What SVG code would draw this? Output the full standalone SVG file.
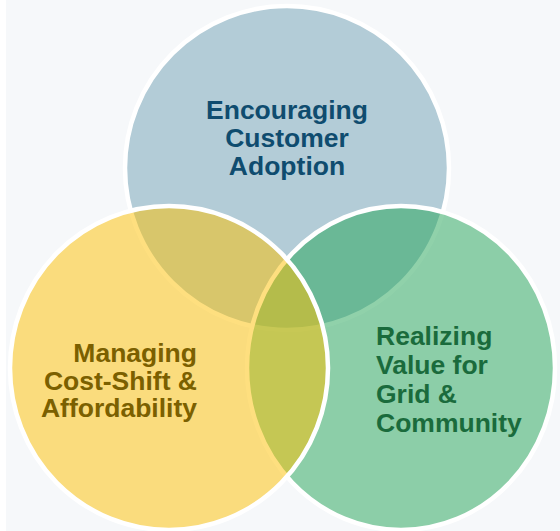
<svg xmlns="http://www.w3.org/2000/svg" width="560" height="531" viewBox="0 0 560 531">
  <style>
    .c { stroke: #FFFFFF; stroke-width: 4.5; }
    .t { font-family: "Liberation Sans", Arial, sans-serif; font-weight: bold; font-size: 26.5px; }
  </style>
  <rect x="0" y="0" width="560" height="531" fill="#F6F8FA"/>
  <rect x="0" y="0" width="6" height="531" fill="#FFFFFF"/>
  <g id="node-adoption">
    <ellipse class="c" cx="287" cy="168" rx="162" ry="162" fill="rgba(111,159,179,0.5)"/>
    <text class="t" fill="#0F4C6F" text-anchor="middle" x="287" y="119">Encouraging</text>
    <text class="t" fill="#0F4C6F" text-anchor="middle" x="287" y="147">Customer</text>
    <text class="t" fill="#0F4C6F" text-anchor="middle" x="287" y="175">Adoption</text>
  </g>
  <g id="node-grid">
    <ellipse class="c" cx="401" cy="368" rx="154" ry="162" fill="rgba(33,163,85,0.5)"/>
    <text class="t" fill="#1A6B3C" x="376" y="345">Realizing</text>
    <text class="t" fill="#1A6B3C" x="376" y="374">Value for</text>
    <text class="t" fill="#1A6B3C" x="376" y="403">Grid &amp;</text>
    <text class="t" fill="#1A6B3C" x="376" y="432">Community</text>
  </g>
  <g id="node-cost">
    <ellipse class="c" cx="169" cy="368" rx="159" ry="162" fill="rgba(253,191,0,0.5)"/>
    <text class="t" fill="#7B6000" text-anchor="end" x="197" y="362">Managing</text>
    <text class="t" fill="#7B6000" text-anchor="end" x="197" y="390">Cost-Shift &amp;</text>
    <text class="t" fill="#7B6000" text-anchor="end" x="197" y="417">Affordability</text>
  </g>
  <g id="connectors"></g>
</svg>
